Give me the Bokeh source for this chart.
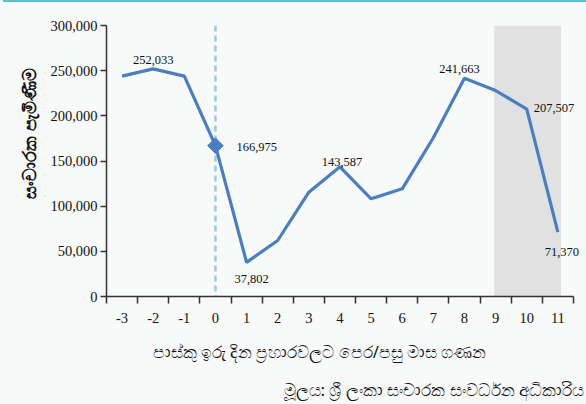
import math
from bokeh.plotting import figure
from bokeh.models import (ColumnDataSource, Range1d, FixedTicker, NumeralTickFormatter,
                          Span, BoxAnnotation, LabelSet, Title, Div)
from bokeh.layouts import column
from bokeh.embed import file_html
from bokeh.resources import INLINE

# ---- data ----
months = [-3, -2, -1, 0, 1, 2, 3, 4, 5, 6, 7, 8, 9, 10, 11]
arrivals = [244000, 252033, 244000, 166975, 37802, 62000, 115500, 143587,
            108100, 119200, 175700, 241663, 228000, 207507, 71370]
y_ticks = [0, 50000, 100000, 150000, 200000, 250000, 300000]
x_ticks = months
x_tick_labels = [str(m) for m in months]
labeled_months = [-2, 0, 1, 4, 8, 10, 11]
attack_month = 0
forecast_start, forecast_end = 9, 11

y_title = "සංචාරක පැමිණීම"
x_title = "පාස්කු ඉරු දින ප්‍රහාරවලට පෙර/පසු මාස ගණන"
source_text = "මූලය: ශ්‍රී ලංකා සංචාරක සංවර්ධන අධිකාරිය"

# label placement (screen px offsets) for the annotated points
lab_dx = [0, 21, 5, 2, -5, 7, 4]
lab_dy = [9, -1.5, -16.5, 5, 9.5, 1.5, -19.5]
lab_align = ["center", "left", "center", "center", "center", "left", "center"]

BG = "#f8f9f9"
LINE = "#4a7ebf"
SERIF = "Liberation Serif"
SIN = "Noto Sans"

bar = Div(text="", width=583, height=2, margin=(0, 0, 0, 3),
          styles={"background-color": "#5bbfd0"})

p = figure(width=586, height=402, output_backend="svg", toolbar_location=None,
           x_range=Range1d(-3.5, 11.92), y_range=Range1d(0, 300000),
           min_border_left=106, min_border_right=0, min_border_top=23, min_border_bottom=108,
           background_fill_color=BG, border_fill_color=BG, outline_line_color=None)
p.grid.visible = False

# shaded forecast region
p.add_layout(BoxAnnotation(left=forecast_start - 0.05, right=forecast_end + 0.1,
                           bottom=0, top=300000, fill_color="#e1e1e1", fill_alpha=1,
                           line_color=None, level="underlay"))
# dashed event line
p.add_layout(Span(location=attack_month, dimension="height", line_color="#9fc8da",
                  line_width=2.5, line_dash="6 4", level="underlay"))

src = ColumnDataSource(dict(x=months, y=arrivals))
p.line("x", "y", source=src, line_color=LINE, line_width=3.2)

i0 = months.index(attack_month)
p.scatter([months[i0]], [arrivals[i0]], marker="square", angle=math.pi / 4, size=11,
          fill_color=LINE, line_color=LINE)

lab_y = [arrivals[months.index(m)] for m in labeled_months]
lsrc = ColumnDataSource(dict(x=labeled_months, y=lab_y,
                             t=[f"{v:,}" for v in lab_y],
                             dx=lab_dx, dy=lab_dy, al=lab_align))
p.add_layout(LabelSet(x="x", y="y", text="t", source=lsrc, x_offset="dx", y_offset="dy",
                      text_align="al", text_baseline="middle", text_font=SERIF,
                      text_font_size="12.5px", text_color="#111111"))

# axes
xa = p.xaxis[0]
xa.bounds = (-3.5, 11.5)
xa.ticker = FixedTicker(ticks=x_ticks, minor_ticks=[m + 0.5 for m in [-4] + months])
xa.major_label_overrides = {m: s for m, s in zip(x_ticks, x_tick_labels)}
xa.major_tick_out = 0
xa.major_tick_in = 0
xa.minor_tick_out = 7
xa.minor_tick_in = 0
xa.minor_tick_line_color = "#333333"
xa.minor_tick_line_width = 1.5
xa.major_label_standoff = 9
xa.axis_line_color = "#333333"
xa.axis_line_width = 1.5
xa.major_label_text_font = SERIF
xa.major_label_text_font_size = "14.5px"
xa.major_label_text_color = "#111111"

ya = p.yaxis[0]
ya.ticker = FixedTicker(ticks=y_ticks)
ya.formatter = NumeralTickFormatter(format="0,0")
ya.major_tick_out = 6
ya.major_tick_in = 0
ya.major_tick_line_color = "#333333"
ya.major_tick_line_width = 1.5
ya.minor_tick_line_color = None
ya.axis_line_color = "#333333"
ya.axis_line_width = 1.5
ya.major_label_standoff = 3
ya.major_label_text_font = SERIF
ya.major_label_text_font_size = "14.5px"
ya.major_label_text_color = "#111111"

# titles
p.add_layout(Title(text=y_title, align="left", offset=98, standoff=14,
                   text_font=SIN, text_font_size="18px", text_font_style="bold",
                   text_color="#111111"), "left")
p.add_layout(Title(text=x_title, align="left", offset=46, standoff=24,
                   text_font=SIN, text_font_size="16.5px", text_font_style="normal",
                   text_color="#111111"), "below")
p.add_layout(Title(text=source_text, align="left", offset=177, standoff=2,
                   text_font=SIN, text_font_size="17px", text_font_style="normal",
                   text_color="#111111"), "below")

layout = column(bar, p, spacing=0, styles={"background-color": BG})
open("out.html", "w").write(file_html(layout, INLINE))
